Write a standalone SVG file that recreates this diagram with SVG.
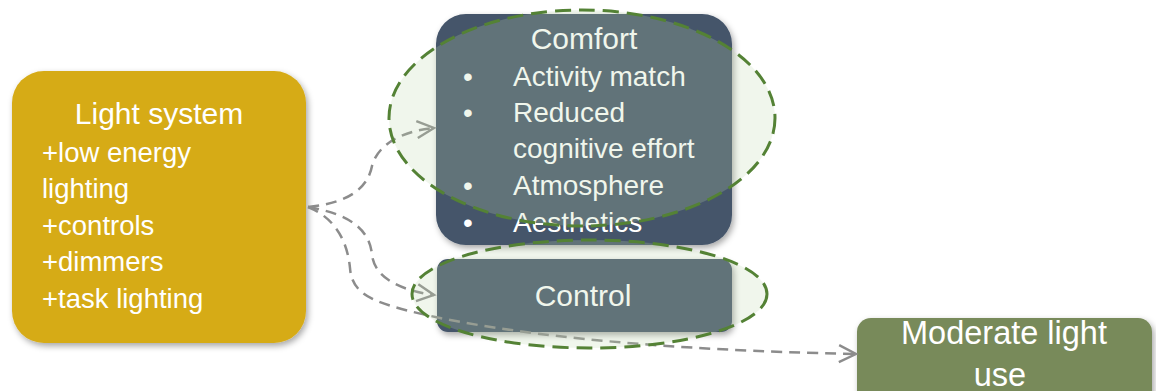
<svg xmlns="http://www.w3.org/2000/svg" width="1156" height="391" viewBox="0 0 1156 391">
  <defs>
    <filter id="shadow" x="-10%" y="-10%" width="125%" height="130%">
      <feDropShadow dx="2" dy="3" stdDeviation="3" flood-color="#000" flood-opacity="0.35"/>
    </filter>
    <marker id="open-arrow" markerUnits="userSpaceOnUse" markerWidth="26" markerHeight="26" viewBox="0 0 26 26" refX="21" refY="13" orient="auto">
      <path d="M4,4.5 L21,13 L4,21.5" fill="none" stroke="#8C8C8C" stroke-width="2.4"/>
    </marker>
    <style>
      .txt { font-family: "Liberation Sans", Arial, sans-serif; fill: #FFFFFF; }
      .conn { fill: none; stroke: #8C8C8C; stroke-width: 2.5; stroke-dasharray: 11 7; marker-end: url(#open-arrow); }
      .halo { fill: #BED8AC; fill-opacity: 0.23; stroke: #548235; stroke-width: 3; stroke-dasharray: 16 8; }
    </style>
  </defs>

  <g id="light-system">
    <rect x="12" y="71" width="294" height="272" rx="32" ry="32" fill="#D6AB19" filter="url(#shadow)"/>
    <text class="txt" x="159" y="124" font-size="30" text-anchor="middle">Light system</text>
    <text class="txt" x="42" y="162" font-size="27.5">+low energy</text>
    <text class="txt" x="42" y="198" font-size="27.5">lighting</text>
    <text class="txt" x="42" y="235" font-size="27.5">+controls</text>
    <text class="txt" x="42" y="271" font-size="27.5">+dimmers</text>
    <text class="txt" x="42" y="308" font-size="27.5">+task lighting</text>
  </g>

  <g id="comfort">
    <rect x="436" y="14" width="296" height="231" rx="30" ry="30" fill="#44546A" filter="url(#shadow)"/>
    <text class="txt" x="584" y="49" font-size="30" text-anchor="middle">Comfort</text>
    <g font-size="28">
      <text class="txt" x="468" y="86" text-anchor="middle">•</text>
      <text class="txt" x="513" y="86">Activity match</text>
      <text class="txt" x="468" y="122" text-anchor="middle">•</text>
      <text class="txt" x="513" y="122">Reduced</text>
      <text class="txt" x="513" y="158">cognitive effort</text>
      <text class="txt" x="468" y="195" text-anchor="middle">•</text>
      <text class="txt" x="513" y="195">Atmosphere</text>
      <text class="txt" x="468" y="232" text-anchor="middle">•</text>
      <text class="txt" x="513" y="232">Aesthetics</text>
    </g>
  </g>

  <g id="control">
    <rect x="437" y="259" width="295" height="73" rx="11" ry="11" fill="#44546A" filter="url(#shadow)"/>
    <text class="txt" x="583" y="306" font-size="30" text-anchor="middle">Control</text>
  </g>

  <g id="moderate-light-use">
    <rect x="857" y="318" width="295" height="90" rx="14" ry="14" fill="#788A5A" filter="url(#shadow)"/>
    <text class="txt" x="1004" y="344" font-size="32.5" text-anchor="middle">Moderate light</text>
    <text class="txt" x="1000" y="386" font-size="32.5" text-anchor="middle">use</text>
  </g>

  <g id="connectors">
    <path class="conn" d="M308,207 C350,203 368,187 372,166 C377,146 400,131 434,128"/>
    <path class="conn" d="M308,207 C350,214 370,230 372,255 C375,280 405,291 434,295"/>
    <path class="conn" d="M308,207 C340,220 348,248 350,268 C352,296 375,304 440,318 C530,336 660,350 856,354"/>
  </g>

  <g id="highlights">
    <ellipse id="comfort-halo" class="halo" cx="582" cy="118" rx="193" ry="108"/>
    <ellipse id="control-halo" class="halo" cx="589.5" cy="294" rx="177.5" ry="54"/>
  </g>
</svg>
